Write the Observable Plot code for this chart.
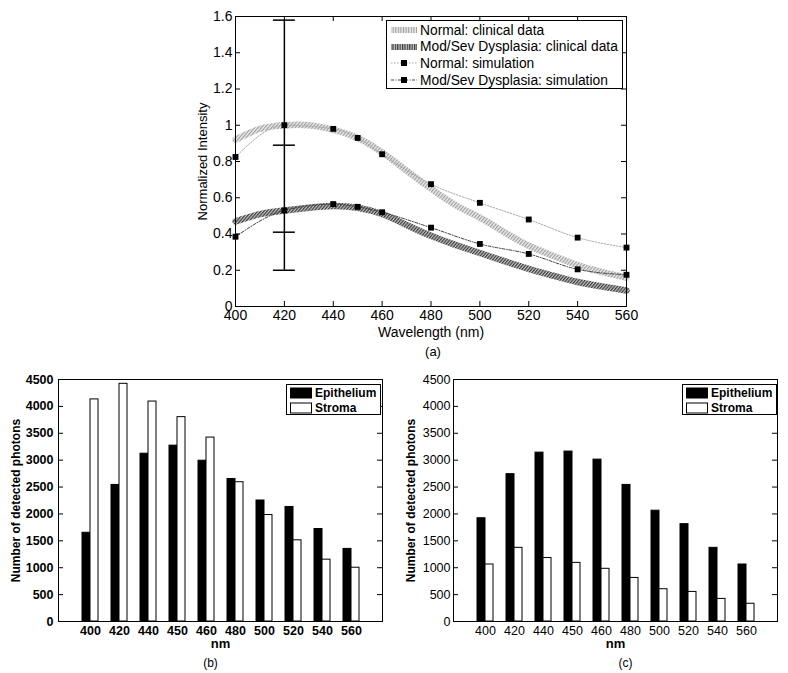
<!DOCTYPE html>
<html><head><meta charset="utf-8">
<script src="https://cdn.jsdelivr.net/npm/d3@7"></script>
<script src="https://cdn.jsdelivr.net/npm/@observablehq/plot@0.6"></script>
<style>
body{margin:0;background:#fff;}
#root{position:relative;width:788px;height:673px;font-family:"Liberation Sans",Arial,sans-serif;overflow:hidden;}
#root > svg{position:absolute;overflow:visible;}
.legend{position:absolute;box-sizing:border-box;border:1px solid #000;background:#fff;color:#000;}
.legend .row{display:flex;align-items:center;white-space:nowrap;}
.legend svg{display:block;flex:none;}
</style></head><body><div id="root"></div>
<script>
// ---------- Panel (a) data ----------
const clinicalWavelengths = [400,410,420,430,440,450,460,470,480,490,500,510,520,530,540,550,560];
const normalClinical      = [0.92,0.98,1.0,1.0,0.975,0.93,0.85,0.75,0.65,0.56,0.49,0.41,0.335,0.28,0.228,0.19,0.16];
const dysplasiaClinical   = [0.47,0.51,0.53,0.545,0.555,0.545,0.51,0.45,0.39,0.34,0.295,0.25,0.208,0.17,0.135,0.11,0.088];
const simWavelengths = [400,420,440,450,460,480,500,520,540,560];
const normalSim      = [0.825,1.0,0.98,0.93,0.84,0.675,0.572,0.48,0.38,0.325];
const dysplasiaSim   = [0.385,0.53,0.565,0.55,0.52,0.435,0.345,0.29,0.205,0.175];
const errorX = 420;
const errNormal = [0.41, 1.58];
const errDysplasia = [0.2, 0.89];
const xTicksA = [400,420,440,460,480,500,520,540,560];
const yTicksA = [0,0.2,0.4,0.6,0.8,1,1.2,1.4,1.6];
const legendA = ["Normal: clinical data","Mod/Sev Dysplasia: clinical data","Normal: simulation","Mod/Sev Dysplasia: simulation"];
const xLabelA = "Wavelength (nm)";
const yLabelA = "Normalized Intensity";

// ---------- Panels (b),(c) data ----------
const barCategories = ["400","420","440","450","460","480","500","520","540","560"];
const epitheliumB = [1650,2540,3120,3270,2990,2650,2250,2130,1720,1350];
const stromaB     = [4130,4420,4090,3800,3420,2590,1980,1510,1150,1000];
const epitheliumC = [1920,2740,3140,3160,3010,2540,2060,1810,1370,1060];
const stromaC     = [1060,1370,1180,1090,980,810,600,550,420,330];
const yTicksBar = [0,500,1000,1500,2000,2500,3000,3500,4000,4500];
const legendBar = ["Epithelium","Stroma"];
const xLabelBar = "nm";
const yLabelBar = "Number of detected photons";

const root = document.getElementById("root");
const FONT = '"Liberation Sans",Arial,sans-serif';
const TICK = 5;

const hatchDefs = `
<pattern id="hatchNormal" patternUnits="userSpaceOnUse" width="2.6" height="2.6" patternTransform="rotate(40)">
  <rect width="2.6" height="2.6" fill="#ececec"/><rect width="1.1" height="2.6" fill="#9a9a9a"/></pattern>
<pattern id="hatchDys" patternUnits="userSpaceOnUse" width="2.4" height="2.4" patternTransform="rotate(40)">
  <rect width="2.4" height="2.4" fill="#c4c4c4"/><rect width="1.2" height="2.4" fill="#3c3c3c"/></pattern>`;

// ---------- Panel (a) ----------
(function(){
  const W = 470, H = 360, m = {top:16, right:14, bottom:54, left:65};
  const fw = W - m.left - m.right, fh = H - m.top - m.bottom;
  const clin = (ys) => clinicalWavelengths.map((x,i)=>({x, y: ys[i]}));
  const sim = (ys) => simWavelengths.map((x,i)=>({x, y: ys[i]}));
  const capHalf = 4.5; // nm
  const caps = [errNormal[0], errNormal[1], errDysplasia[0], errDysplasia[1]];
  const svg = Plot.plot({
    width: W, height: H, marginTop: m.top, marginRight: m.right, marginBottom: m.bottom, marginLeft: m.left,
    x: {domain: [400,560]}, y: {domain: [0,1.6]},
    style: {fontFamily: FONT, fontSize: "14px", background: "transparent", color: "#000"},
    marks: [
      Plot.line(clin(normalClinical), {x:"x", y:"y", stroke:"url(#hatchNormal)", strokeWidth:6.5, curve:"natural"}),
      Plot.line(clin(dysplasiaClinical), {x:"x", y:"y", stroke:"url(#hatchDys)", strokeWidth:6.5, curve:"natural"}),
      Plot.ruleX([errorX], {x: d=>d, y1: errDysplasia[0], y2: errNormal[1], stroke:"#000", strokeWidth:1.5}),
      Plot.ruleY(caps, {y: d=>d, x1: errorX - capHalf, x2: errorX + capHalf, stroke:"#000", strokeWidth:1.5}),
      Plot.line(sim(normalSim), {x:"x", y:"y", stroke:"#a8a8a8", strokeWidth:1, strokeDasharray:"1.5,1.5", curve:"monotone-x"}),
      Plot.line(sim(dysplasiaSim), {x:"x", y:"y", stroke:"#444", strokeWidth:1, strokeDasharray:"3,1.5,1,1.5", curve:"monotone-x"}),
      Plot.dot(sim(normalSim), {x:"x", y:"y", symbol:"square", r:3.3, fill:"#000"}),
      Plot.dot(sim(dysplasiaSim), {x:"x", y:"y", symbol:"square", r:3.3, fill:"#000"}),
      Plot.tickX(xTicksA, {x: d=>d, insetTop: fh - TICK, stroke:"#000"}),
      Plot.tickX(xTicksA, {x: d=>d, insetBottom: fh - TICK, stroke:"#000"}),
      Plot.tickY(yTicksA, {y: d=>d, insetRight: fw - TICK, stroke:"#000"}),
      Plot.tickY(yTicksA, {y: d=>d, insetLeft: fw - TICK, stroke:"#000"}),
      Plot.frame({stroke:"#000"}),
      Plot.axisX({ticks: xTicksA, tickSize: 0, tickPadding: 4, tickFormat: d=>String(d), label: null, fontSize: 14}),
      Plot.axisY({ticks: yTicksA, tickSize: 0, tickPadding: 3, tickFormat: d=>String(d), label: null, fontSize: 14}),
      Plot.text([xLabelA], {frameAnchor:"bottom", lineAnchor:"middle", dy: 26, text: d=>d, fontSize: 14}),
      Plot.text(["(a)"], {frameAnchor:"bottom", lineAnchor:"middle", dy: 45, dx: 2, text: d=>d, fontSize: 13}),
      Plot.text([yLabelA], {frameAnchor:"left", textAnchor:"middle", lineAnchor:"middle", rotate: -90, dx: -33, text: d=>d, fontSize: 13})
    ]
  });
  const defs = document.createElementNS("http://www.w3.org/2000/svg", "defs");
  defs.innerHTML = hatchDefs;
  svg.insertBefore(defs, svg.firstChild);
  svg.style.left = "170px"; svg.style.top = "0px";
  root.appendChild(svg);

  // legend
  const lg = document.createElement("div");
  lg.className = "legend";
  Object.assign(lg.style, {left:"386px", top:"20px", width:"237px", height:"69px", padding:"1px 0 0 3px", fontSize:"13.8px"});
  const samples = [
    `<line x1="1" x2="27" y1="8" y2="8" stroke="url(#hatchNormalL)" stroke-width="6"/>`,
    `<line x1="1" x2="27" y1="8" y2="8" stroke="url(#hatchDysL)" stroke-width="6"/>`,
    `<line x1="1" x2="27" y1="8" y2="8" stroke="#a8a8a8" stroke-dasharray="1.5,1.5"/><rect x="11" y="5" width="6" height="6" fill="#000"/>`,
    `<line x1="1" x2="27" y1="8" y2="8" stroke="#444" stroke-dasharray="3,1.5,1,1.5"/><rect x="11" y="5" width="6" height="6" fill="#000"/>`
  ];
  const legendDefs = hatchDefs.replace('id="hatchNormal"', 'id="hatchNormalL"').replace('id="hatchDys"', 'id="hatchDysL"').replace(/rotate\(40\)/g, "rotate(0)");
  legendA.forEach((t,i)=>{
    const r = document.createElement("div"); r.className = "row"; r.style.height = "16.6px";
    r.innerHTML = `<svg width="30" height="16">${i===0 ? "<defs>"+legendDefs+"</defs>" : ""}${samples[i]}</svg><span>${t}</span>`;
    lg.appendChild(r);
  });
  root.appendChild(lg);
})();

// ---------- Bar panels ----------
function barPanel(epi, stroma, {left, width, marginRight, tagText, tagDx, boldTicks, tickPad, legendLeft}) {
  const H = 303, m = {top:9, right: marginRight, bottom:52, left:58};
  const fw = width - m.left - m.right, fh = H - m.top - m.bottom;
  const step = fw / 11, groupW = 16;
  const pIn = 1 - groupW / step, pOut = (1 + pIn) / 2;
  const rows = barCategories.map((c,i)=>({nm: c, epi: epi[i], stroma: stroma[i]}));
  const tw = boldTicks ? "bold" : "normal";
  const svg = Plot.plot({
    width, height: H, marginTop: m.top, marginRight: m.right, marginBottom: m.bottom, marginLeft: m.left,
    x: {type:"band", domain: barCategories, paddingInner: pIn, paddingOuter: pOut},
    y: {domain: [0,4500]},
    style: {fontFamily: FONT, fontSize: "12px", background: "transparent", color: "#000"},
    marks: [
      Plot.barY(rows, {x:"nm", y:"epi", fill:"#000", stroke:"#000", strokeWidth:1, insetRight: groupW/2}),
      Plot.barY(rows, {x:"nm", y:"stroma", fill:"#fff", stroke:"#000", strokeWidth:1, insetLeft: groupW/2}),
      Plot.tickY(yTicksBar, {y: d=>d, insetRight: fw - TICK, stroke:"#000"}),
      Plot.tickY(yTicksBar, {y: d=>d, insetLeft: fw - TICK, stroke:"#000"}),
      Plot.frame({stroke:"#000"}),
      Plot.axisX({tickSize: 0, tickPadding: 5, label: null, fontWeight: tw, fontSize: 12.5}),
      Plot.axisY({ticks: yTicksBar, tickSize: 0, tickPadding: tickPad, tickFormat: d=>String(d), label: null, fontWeight: tw, fontSize: 12.5}),
      Plot.text([xLabelBar], {frameAnchor:"bottom", lineAnchor:"middle", dy: 22, text: d=>d, fontWeight:"bold", fontSize: 13}),
      Plot.text([tagText], {frameAnchor:"bottom", lineAnchor:"middle", dy: 42, dx: tagDx, text: d=>d, fontSize: 12}),
      Plot.text([yLabelBar], {frameAnchor:"left", textAnchor:"middle", lineAnchor:"middle", rotate: -90, dx: -42, text: d=>d, fontWeight:"bold", fontSize: 12})
    ]
  });
  svg.style.left = left + "px"; svg.style.top = "370px";
  root.appendChild(svg);

  const lg = document.createElement("div");
  lg.className = "legend";
  Object.assign(lg.style, {left: legendLeft + "px", top:"384px", width:"95px", height:"31px", padding:"1px 0 0 3px", fontSize:"12px", fontWeight:"bold"});
  const fills = ["#000", "#fff"];
  legendBar.forEach((t,i)=>{
    const r = document.createElement("div"); r.className = "row"; r.style.height = "14.5px";
    r.innerHTML = `<svg width="25" height="12"><rect x="0.5" y="1" width="21" height="10" fill="${fills[i]}" stroke="#000"/></svg><span>${t}</span>`;
    lg.appendChild(r);
  });
  root.appendChild(lg);
}

barPanel(epitheliumB, stromaB, {left: 0, width: 394, marginRight: 12, tagText: "(b)", tagDx: -10, boldTicks: true, tickPad: 5, legendLeft: 286});
barPanel(epitheliumC, stromaC, {left: 395, width: 393, marginRight: 11, tagText: "(c)", tagDx: 10, boldTicks: false, tickPad: 3, legendLeft: 682});
</script>
</body></html>
